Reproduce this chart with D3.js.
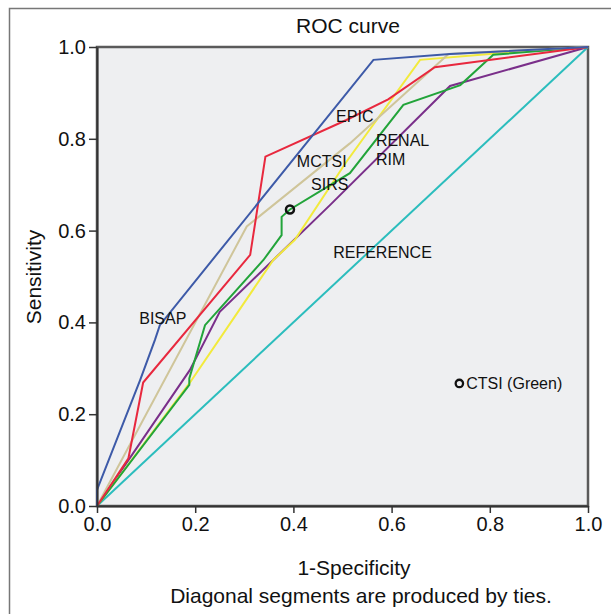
<!DOCTYPE html>
<html>
<head>
<meta charset="utf-8">
<script src="https://cdn.jsdelivr.net/npm/d3@7"></script>
<style>
  body { margin: 0; background: #fff; }
  text { font-family: "Liberation Sans", Arial, sans-serif; fill: #111; }
</style>
</head>
<body>
<svg id="chart" width="611" height="614"></svg>
<script>
// curve points, [1-specificity, sensitivity]
var bisap = [[0, 0], [0, 0.035], [0.088, 0.275], [0.118, 0.362], [0.128, 0.394], [0.563, 0.972], [0.719, 0.985], [1, 1]]
var epic = [[0, 0], [0.064, 0.104], [0.094, 0.269], [0.312, 0.547], [0.343, 0.761], [0.508, 0.841], [0.593, 0.886], [0.688, 0.956], [1, 1]]
var mctsi = [[0, 0], [0.305, 0.609], [0.515, 0.79], [0.716, 0.985], [1, 1]]
var sirs = [[0, 0], [0.188, 0.264], [0.188, 0.278], [0.22, 0.394], [0.339, 0.536], [0.376, 0.59], [0.376, 0.63], [0.393, 0.646], [0.515, 0.725], [0.624, 0.874], [0.74, 0.917], [0.807, 0.983], [1, 1]]
var renal = [[0, 0], [0.188, 0.267], [0.359, 0.536], [0.403, 0.58], [0.508, 0.75], [0.658, 0.972], [0.8, 0.985], [1, 1]]
var rim = [[0, 0], [0.064, 0.10], [0.189, 0.296], [0.25, 0.423], [0.359, 0.536], [0.475, 0.656], [0.719, 0.915], [1, 1]]
var reference = [[0, 0], [1, 1]]

var seriesNames = ["REFERENCE", "RIM", "RENAL", "SIRS", "MCTSI", "EPIC", "BISAP"]
var seriesData = [reference, rim, renal, sirs, mctsi, epic, bisap]
var seriesColors = ["#2bbdbd", "#7a2f8a", "#f2ea3c", "#22a43a", "#cfc59a", "#e8283e", "#3d5aa8"]

// curve labels, [x, y] in data units (text baseline)
var labelText = ["EPIC", "MCTSI", "SIRS", "RENAL", "RIM", "REFERENCE", "BISAP"]
var labelPos = [[0.487, 0.837], [0.407, 0.739], [0.436, 0.688], [0.568, 0.784], [0.568, 0.743], [0.481, 0.540], [0.086, 0.397]]

var ctsiPoint = [0.393, 0.646]
var ticks = [0, 0.2, 0.4, 0.6, 0.8, 1.0]

var svg = d3.select("#chart")

// outer frame
svg.append("path")
    .attr("d", "M9.5,614 L9.5,8.5 L611,8.5")
    .attr("fill", "none")
    .attr("stroke", "#777")
    .attr("stroke-width", 1.5)

var pLeft = 97, pRight = 588, pTop = 47, pBottom = 506

var x = d3.scaleLinear().domain([0, 1]).range([pLeft, pRight])
var y = d3.scaleLinear().domain([0, 1]).range([pBottom, pTop])

svg.append("rect")
    .attr("x", pLeft).attr("y", pTop)
    .attr("width", pRight - pLeft).attr("height", pBottom - pTop)
    .attr("fill", "#eeeff1")
    .attr("stroke", "#5a5a5a")
    .attr("stroke-width", 2.5)

var line = d3.line().x(d => x(d[0])).y(d => y(d[1]))

svg.selectAll(".curve").data(seriesData).join("path")
    .attr("class", "curve")
    .attr("d", line)
    .attr("fill", "none")
    .attr("stroke", (d, i) => seriesColors[i])
    .attr("stroke-width", 2)

svg.append("circle")
    .attr("cx", x(ctsiPoint[0])).attr("cy", y(ctsiPoint[1]))
    .attr("r", 4).attr("fill", "none")
    .attr("stroke", "#111").attr("stroke-width", 2.5)

svg.selectAll(".lab").data(labelText).join("text")
    .attr("class", "lab")
    .attr("x", (d, i) => x(labelPos[i][0]))
    .attr("y", (d, i) => y(labelPos[i][1]))
    .attr("font-size", 16)
    .text(d => d)

// legend for the CTSI point
svg.append("circle")
    .attr("cx", x(0.738)).attr("cy", y(0.267))
    .attr("r", 3.7).attr("fill", "none")
    .attr("stroke", "#111").attr("stroke-width", 2.3)
svg.append("text")
    .attr("x", x(0.752)).attr("y", y(0.267) + 6)
    .attr("font-size", 16)
    .text("CTSI (Green)")

// axes
var xAxis = d3.axisBottom(x).tickValues(ticks).tickFormat(d3.format(".1f")).tickSize(7).tickSizeOuter(0).tickPadding(4)
var yAxis = d3.axisLeft(y).tickValues(ticks).tickFormat(d3.format(".1f")).tickSize(8).tickSizeOuter(0).tickPadding(3)

svg.append("g").attr("transform", `translate(0,${pBottom})`).call(xAxis)
    .call(g => g.select(".domain").attr("stroke", "#333").attr("stroke-width", 2))
    .call(g => g.selectAll(".tick line").attr("stroke", "#333").attr("stroke-width", 1.5))
    .call(g => g.selectAll(".tick text").attr("font-size", 20).attr("font-family", "Liberation Sans, Arial").attr("fill", "#222"))

svg.append("g").attr("transform", `translate(${pLeft},0)`).call(yAxis)
    .call(g => g.select(".domain").attr("stroke", "#333").attr("stroke-width", 2))
    .call(g => g.selectAll(".tick line").attr("stroke", "#333").attr("stroke-width", 1.5))
    .call(g => g.selectAll(".tick text").attr("font-size", 20).attr("font-family", "Liberation Sans, Arial").attr("fill", "#222"))

svg.append("text")
    .attr("x", 348).attr("y", 33)
    .attr("text-anchor", "middle").attr("font-size", 21)
    .text("ROC curve")

svg.append("text")
    .attr("x", 354).attr("y", 575)
    .attr("text-anchor", "middle").attr("font-size", 21)
    .text("1-Specificity")

svg.append("text")
    .attr("x", 361).attr("y", 603)
    .attr("text-anchor", "middle").attr("font-size", 21)
    .text("Diagonal segments are produced by ties.")

svg.append("text")
    .attr("transform", "translate(41,277) rotate(-90)")
    .attr("text-anchor", "middle").attr("font-size", 21)
    .text("Sensitivity")
</script>
</body>
</html>
